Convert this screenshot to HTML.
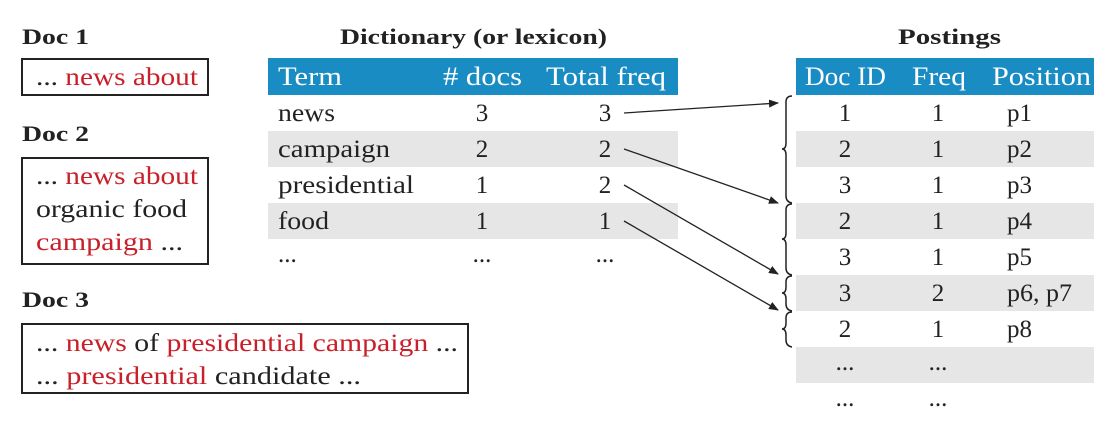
<!DOCTYPE html>
<html><head><style>body{margin:0;background:#fff}</style></head><body>
<svg width="1115" height="426" xmlns="http://www.w3.org/2000/svg" font-family="Liberation Serif, serif" font-size="25" fill="#222">
<defs><marker id="a" markerWidth="10" markerHeight="8" refX="9" refY="4" orient="auto" markerUnits="userSpaceOnUse"><path d="M0,0 L10,4 L0,8 z" fill="#222"/></marker></defs>
<g font-weight="bold" font-size="22">
<text x="22" y="44" textLength="67" lengthAdjust="spacingAndGlyphs">Doc 1</text><text x="22" y="141" textLength="67" lengthAdjust="spacingAndGlyphs">Doc 2</text><text x="22" y="307" textLength="67" lengthAdjust="spacingAndGlyphs">Doc 3</text>
<text x="340" y="44" textLength="267" lengthAdjust="spacingAndGlyphs">Dictionary (or lexicon)</text>
<text x="898" y="44" textLength="103" lengthAdjust="spacingAndGlyphs">Postings</text></g>
<g fill="none" stroke="#222" stroke-width="2">
<rect x="22" y="59" width="186" height="36"/><rect x="22" y="158" width="186" height="106"/><rect x="22" y="324" width="446" height="69"/></g>
<text x="36" y="85" textLength="162" lengthAdjust="spacingAndGlyphs">... <tspan fill="#c8202a">news about</tspan></text>
<text x="36" y="184" textLength="162" lengthAdjust="spacingAndGlyphs">... <tspan fill="#c8202a">news about</tspan></text>
<text x="36" y="217" textLength="151" lengthAdjust="spacingAndGlyphs">organic food</text>
<text x="36" y="250" textLength="147" lengthAdjust="spacingAndGlyphs"><tspan fill="#c8202a">campaign</tspan> ...</text>
<text x="36" y="351" textLength="422" lengthAdjust="spacingAndGlyphs">... <tspan fill="#c8202a">news</tspan> of <tspan fill="#c8202a">presidential campaign</tspan> ...</text>
<text x="36" y="384" textLength="325" lengthAdjust="spacingAndGlyphs">... <tspan fill="#c8202a">presidential</tspan> candidate ...</text>
<rect x="268" y="58" width="410" height="37" fill="#1a8cc4"/>
<rect x="268" y="131" width="410" height="36" fill="#e6e6e6"/><rect x="268" y="203" width="410" height="36" fill="#e6e6e6"/>
<g fill="#fff" font-size="26"><text x="278" y="85" textLength="64" lengthAdjust="spacingAndGlyphs">Term</text><text x="443" y="85" textLength="79" lengthAdjust="spacingAndGlyphs"># docs</text><text x="546" y="85" textLength="120" lengthAdjust="spacingAndGlyphs">Total freq</text></g>
<text x="278" y="121" textLength="57" lengthAdjust="spacingAndGlyphs">news</text><text x="482" y="121" text-anchor="middle">3</text><text x="605" y="121" text-anchor="middle">3</text>
<text x="278" y="157" textLength="112" lengthAdjust="spacingAndGlyphs">campaign</text><text x="482" y="157" text-anchor="middle">2</text><text x="605" y="157" text-anchor="middle">2</text>
<text x="278" y="193" textLength="136" lengthAdjust="spacingAndGlyphs">presidential</text><text x="482" y="193" text-anchor="middle">1</text><text x="605" y="193" text-anchor="middle">2</text>
<text x="278" y="229" textLength="51" lengthAdjust="spacingAndGlyphs">food</text><text x="482" y="229" text-anchor="middle">1</text><text x="605" y="229" text-anchor="middle">1</text>
<text x="278" y="262">...</text><text x="482" y="262" text-anchor="middle">...</text><text x="605" y="262" text-anchor="middle">...</text>
<rect x="796" y="58" width="298" height="37" fill="#1a8cc4"/>
<g fill="#e6e6e6"><rect x="796" y="131" width="298" height="36"/><rect x="796" y="203" width="298" height="36"/><rect x="796" y="275" width="298" height="36"/><rect x="796" y="347" width="298" height="36"/></g>
<g fill="#fff" font-size="26"><text x="805" y="85" textLength="81" lengthAdjust="spacingAndGlyphs">Doc ID</text><text x="912" y="85" textLength="54" lengthAdjust="spacingAndGlyphs">Freq</text><text x="992" y="85" textLength="99" lengthAdjust="spacingAndGlyphs">Position</text></g>
<g text-anchor="middle">
<text x="845" y="121">1</text><text x="938" y="121">1</text>
<text x="845" y="157">2</text><text x="938" y="157">1</text>
<text x="845" y="193">3</text><text x="938" y="193">1</text>
<text x="845" y="229">2</text><text x="938" y="229">1</text>
<text x="845" y="265">3</text><text x="938" y="265">1</text>
<text x="845" y="301">3</text><text x="938" y="301">2</text>
<text x="845" y="337">2</text><text x="938" y="337">1</text>
<text x="845" y="370">...</text><text x="938" y="370">...</text>
<text x="845" y="406">...</text><text x="938" y="406">...</text></g>
<text x="1007" y="121">p1</text><text x="1007" y="157">p2</text><text x="1007" y="193">p3</text><text x="1007" y="229">p4</text><text x="1007" y="265">p5</text><text x="1007" y="301" textLength="65" lengthAdjust="spacingAndGlyphs">p6, p7</text><text x="1007" y="337">p8</text>
<g fill="none" stroke="#222" stroke-width="1.5">
<path d="M792,96 Q786,96 786,102 L786,143 Q786,149 782,149 Q786,149 786,155 L786,196 Q786,202 792,203"/>
<path d="M792,204 Q786,204 786,210 L786,233 Q786,239 782,239 Q786,239 786,245 L786,268 Q786,274 792,275"/>
<path d="M792,276 Q786,276 786,282 L786,287 Q786,293 782,293 Q786,293 786,299 L786,304 Q786,310 792,311"/>
<path d="M792,312 Q786,312 786,318 L786,323 Q786,329 782,329 Q786,329 786,335 L786,340 Q786,346 792,347"/>
</g>
<g stroke="#222" stroke-width="1.3" marker-end="url(#a)">
<line x1="624" y1="113" x2="778" y2="103"/><line x1="624" y1="149" x2="778" y2="203"/>
<line x1="624" y1="185" x2="778" y2="274"/><line x1="624" y1="221" x2="778" y2="310"/></g>
</svg></body></html>
